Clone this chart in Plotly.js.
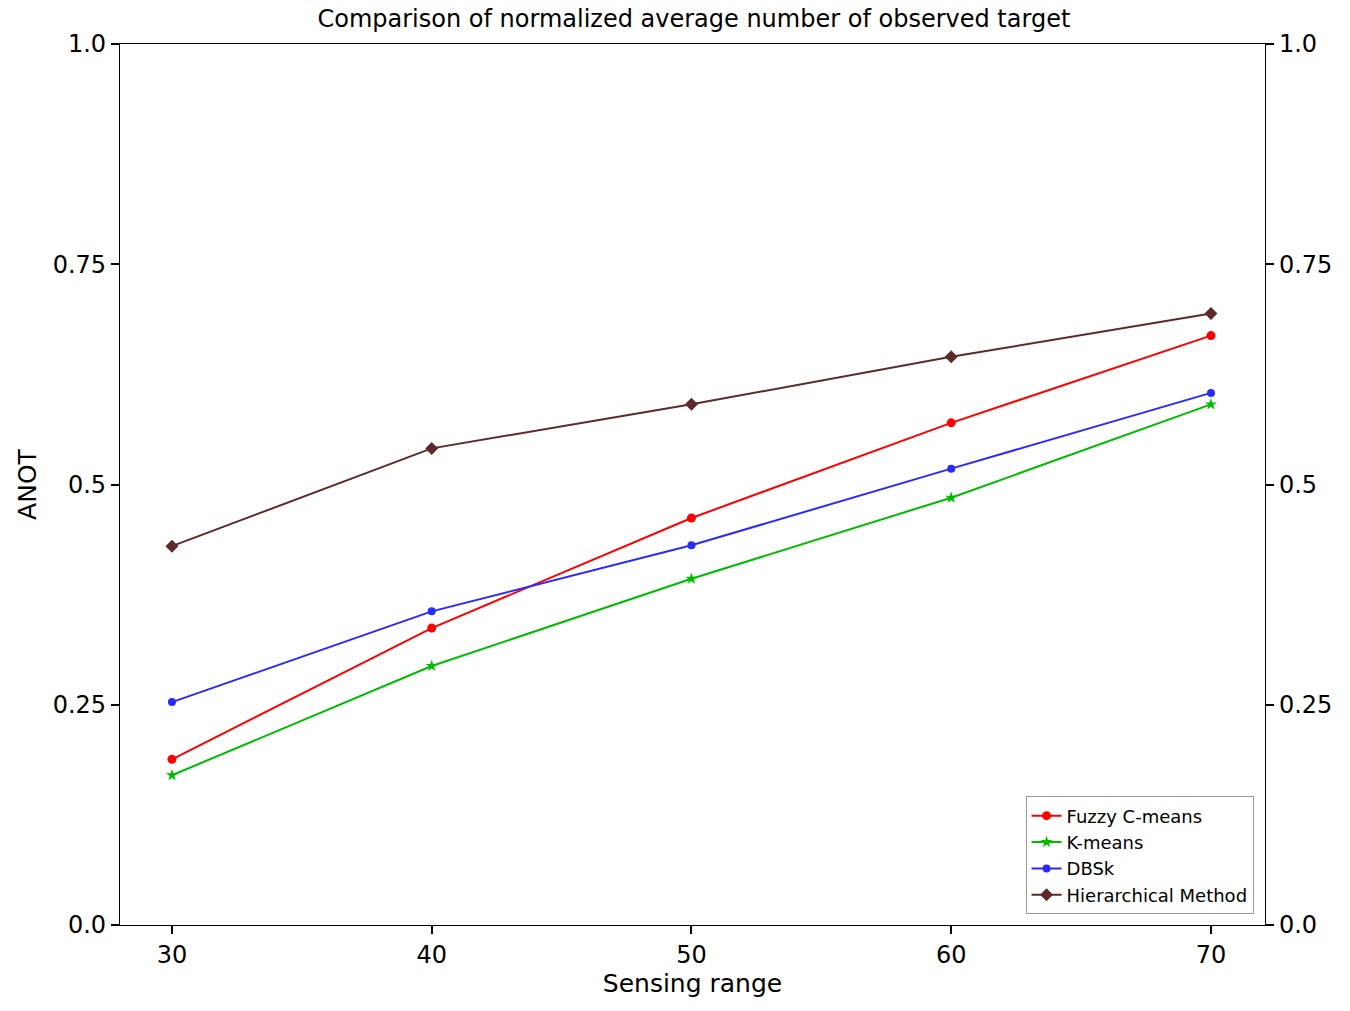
<!DOCTYPE html>
<html>
<head>
<meta charset="utf-8">
<script src="https://cdn.plot.ly/plotly-3.0.1.min.js"></script>
<style>body{margin:0;background:#fff}</style>
</head>
<body>
<div id="chart" style="width:1350px;height:1011px"></div>
<script>
const sensingRange = [30, 40, 50, 60, 70];
const fuzzyCMeans = [0.188, 0.337, 0.462, 0.570, 0.669];
const kMeans = [0.170, 0.294, 0.393, 0.485, 0.591];
const dbsk = [0.253, 0.356, 0.431, 0.518, 0.604];
const hierarchical = [0.430, 0.541, 0.591, 0.645, 0.694];
const yTickVals = [0, 0.25, 0.5, 0.75, 1];
const yTickText = ['0.0', '0.25', '0.5', '0.75', '1.0'];

function line(name, y, color, symbol, size) {
    return {
        x: sensingRange, y: y, name: name, type: 'scatter', mode: 'lines+markers',
        line: { color: color, width: 2 },
        marker: { color: color, symbol: symbol, size: size }
    };
}

const traces = [
    line('Fuzzy C-means', fuzzyCMeans, '#ff0000', 'circle', 9),
    line('K-means', kMeans, '#00bb00', 'star', 9),
    line('DBSk', dbsk, '#2a2aff', 'circle', 8),
    line('Hierarchical Method', hierarchical, '#5c2a2a', 'diamond', 10),
    { x: sensingRange, y: hierarchical, yaxis: 'y2', type: 'scatter', mode: 'none',
      showlegend: false, hoverinfo: 'skip' }
];

const tickFont = { family: 'DejaVu Sans', size: 24, color: '#000' };
const titleFont = { family: 'DejaVu Sans', size: 25, color: '#000' };
const yAxisBase = {
    range: [0, 1], tickvals: yTickVals, ticktext: yTickText,
    ticks: 'outside', ticklen: 8, tickwidth: 1.5, tickcolor: '#000',
    showgrid: false, zeroline: false, showline: true, linecolor: '#000', linewidth: 1.2,
    tickfont: tickFont
};

const layout = {
    width: 1350, height: 1011,
    margin: { l: 120, r: 85, t: 44, b: 86 },
    paper_bgcolor: '#fff', plot_bgcolor: '#fff',
    title: { text: 'Comparison of normalized average number of observed target',
             font: { family: 'DejaVu Sans', size: 24, color: '#000' }, x: 0.514, y: 0.99, yanchor: 'top' },
    xaxis: {
        range: [28, 72.08], tickvals: sensingRange,
        ticks: 'outside', ticklen: 8, tickwidth: 1.5, tickcolor: '#000',
        showgrid: false, zeroline: false, showline: true, mirror: true, linecolor: '#000', linewidth: 1.2,
        tickfont: tickFont,
        title: { text: 'Sensing range', font: titleFont, standoff: 6 }
    },
    yaxis: Object.assign({}, yAxisBase, {
        title: { text: 'ANOT', font: titleFont, standoff: 8 }
    }),
    yaxis2: Object.assign({}, yAxisBase, { overlaying: 'y', side: 'right' }),
    legend: {
        x: 0.99, y: 0.012, xanchor: 'right', yanchor: 'bottom',
        bgcolor: '#fff', bordercolor: '#999', borderwidth: 1,
        tracegroupgap: 4,
        font: { family: 'DejaVu Sans', size: 18, color: '#000' }
    },
    showlegend: true
};

Plotly.newPlot('chart', traces, layout, { displayModeBar: false });
</script>
</body>
</html>
